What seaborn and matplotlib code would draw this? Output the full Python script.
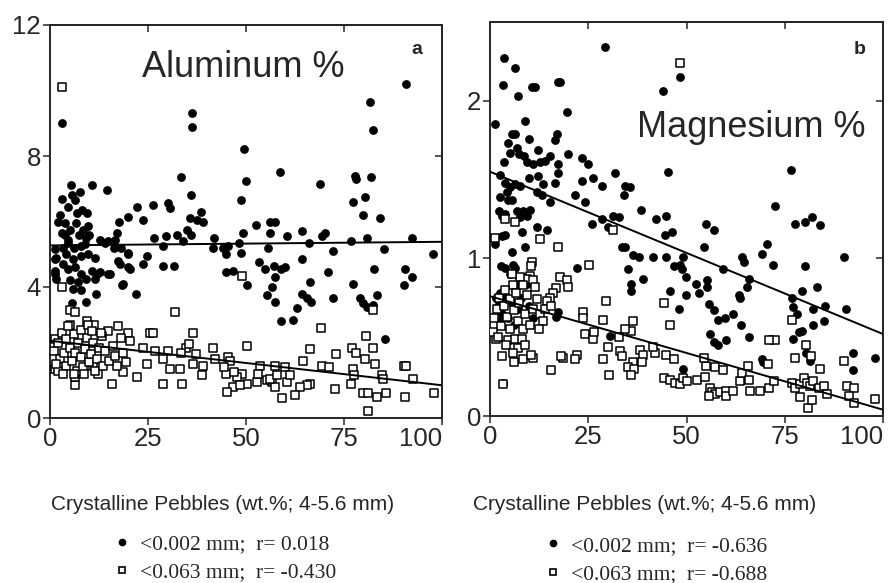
import numpy as np
import pandas as pd
import matplotlib
matplotlib.use('Agg')
import matplotlib.pyplot as plt
import seaborn as sns
from matplotlib.lines import Line2D

# ---- data ----
# panel a, aluminum, <0.002 mm (filled dots)
al_clay = [
    (3.0, 9.0), (36.2, 9.3), (36.2, 8.9), (49.6, 8.2), (50.0, 7.25), (48.8, 6.65), (33.4, 7.35), (36.0, 6.8),
    (58.7, 7.5), (68.8, 7.15), (77.7, 7.4), (78.1, 7.3), (82.0, 7.35), (81.7, 9.65), (82.4, 8.8), (90.8, 10.2),
    (77.3, 6.6), (80.3, 6.75), (79.8, 6.2), (84.1, 6.1), (80.9, 5.5), (76.9, 5.4), (92.3, 5.5), (85.1, 5.15),
    (97.7, 5.0), (82.6, 4.55), (90.6, 4.55), (92.3, 4.3), (90.2, 4.05), (77.4, 4.1), (72.3, 5.1), (71.0, 4.45),
    (70.2, 5.65), (69.4, 5.55), (66.0, 5.35), (64.3, 5.7), (64.3, 4.85), (66.2, 4.15), (60.4, 5.55), (60.0, 4.6),
    (59.0, 4.55), (57.4, 6.0), (56.0, 6.0), (56.2, 5.65), (55.6, 5.2), (53.4, 4.75), (54.9, 4.55), (57.2, 4.65),
    (57.4, 4.3), (56.6, 4.0), (52.6, 5.9), (49.2, 5.65), (48.3, 5.35), (48.8, 5.05), (50.2, 4.05), (46.8, 4.5),
    (45.0, 4.45), (45.5, 5.25), (44.9, 5.0), (44.1, 5.2), (41.9, 5.5), (41.5, 5.2), (38.6, 6.3), (39.0, 6.0),
    (37.4, 6.05), (35.7, 6.1), (34.9, 5.75), (36.0, 5.6), (33.9, 5.4), (32.3, 5.6), (30.5, 6.4), (30.0, 6.55),
    (29.5, 5.55), (28.8, 5.25), (26.6, 5.5), (26.2, 6.5), (23.7, 6.05), (22.3, 6.45), (19.8, 6.15), (17.6, 6.0),
    (17.2, 5.65), (16.6, 5.45), (14.5, 6.95), (10.7, 7.1), (7.7, 6.9), (5.4, 7.1), (5.6, 6.8), (6.5, 6.65),
    (3.0, 6.7), (4.7, 6.45), (2.5, 6.2), (3.8, 5.95), (6.8, 6.25), (9.4, 6.25), (6.6, 5.95), (9.8, 5.85),
    (3.0, 5.65), (4.7, 5.45), (7.5, 5.6), (9.2, 5.5), (12.8, 5.45), (14.0, 5.35), (24.7, 4.95), (23.8, 4.7),
    (20.3, 4.55), (20.0, 5.0), (17.9, 4.7), (18.3, 4.05), (18.6, 4.1), (28.9, 4.65), (31.7, 4.65), (15.3, 4.4),
    (11.9, 4.4), (11.7, 3.8), (22.0, 3.8), (1.3, 4.85), (1.3, 4.4), (5.8, 3.95),
    (1.2, 5.15), (3.3, 5.2), (4.6, 5.35), (6.2, 5.2), (7.8, 5.25), (9.0, 5.3), (14.8, 5.4), (16.3, 5.2),
    (18.0, 5.2), (19.9, 5.05), (1.6, 4.9), (4.0, 5.0), (5.9, 4.85), (7.8, 4.95), (9.6, 5.0), (11.4, 4.9),
    (17.4, 4.8), (19.9, 4.6), (1.2, 4.5), (3.3, 4.7), (4.6, 4.55), (6.5, 4.6), (8.0, 4.4), (10.6, 4.5),
    (12.7, 4.45), (14.8, 4.4), (1.6, 4.25), (5.0, 4.2), (7.2, 4.15), (9.3, 4.25), (11.4, 4.25), (8.0, 3.9),
    (3.7, 5.6), (5.0, 5.75), (8.5, 5.75), (10.0, 5.6), (2.0, 6.0), (8.2, 6.35),
    (5.5, 3.5), (9.2, 3.55), (55.3, 3.75), (57.4, 3.55), (58.9, 2.95), (62.1, 3.0), (63.0, 3.35), (64.3, 3.8),
    (65.5, 3.65), (66.6, 3.55), (72.3, 3.65), (79.0, 3.65), (79.8, 3.5), (80.9, 3.4), (82.4, 3.45), (83.4, 3.75),
    (85.5, 2.4),
]
# panel a, aluminum, <0.063 mm (open squares)
al_silt = [
    (3.0, 10.1), (3.0, 4.0), (49.0, 4.35), (82.4, 3.3), (5.1, 3.3), (6.3, 3.25), (31.9, 3.25), (9.4, 2.95),
    (11.1, 2.85), (5.1, 2.85), (14.9, 2.65), (17.4, 2.8), (20.0, 2.6), (18.0, 2.45), (25.6, 2.6), (26.4, 2.6),
    (36.6, 2.6), (69.1, 2.75), (1.3, 2.4), (13.2, 2.5), (20.4, 2.35), (23.8, 2.15), (26.8, 2.05), (30.2, 2.05),
    (34.7, 2.15), (35.5, 2.25), (41.7, 2.15), (50.2, 2.2), (66.2, 2.1), (73.0, 1.95), (77.0, 2.15), (78.1, 2.0),
    (80.7, 2.5), (82.4, 2.15), (28.9, 1.8), (33.3, 2.0), (37.3, 1.95), (42.1, 1.8), (45.4, 1.85), (46.0, 1.75),
    (39.0, 1.6), (24.7, 1.65), (30.6, 1.5), (33.2, 1.5), (38.7, 1.3), (36.6, 1.65), (64.5, 1.75), (53.6, 1.6),
    (57.4, 1.6), (60.0, 1.55), (69.4, 1.6), (71.3, 1.55), (77.3, 1.5), (80.3, 1.8), (82.8, 1.65), (90.2, 1.6),
    (90.8, 1.6), (92.6, 1.2), (84.7, 1.3), (85.0, 1.2), (76.9, 1.05), (77.6, 1.3), (79.8, 0.75), (81.1, 0.75),
    (83.4, 0.65), (85.8, 0.75), (81.0, 0.2), (90.6, 0.65), (97.9, 0.75), (72.6, 0.9), (66.4, 1.05), (65.6, 1.0),
    (63.8, 0.95), (62.6, 0.7), (59.1, 0.6), (56.6, 1.1), (55.3, 1.15), (57.4, 0.95), (60.4, 1.1), (61.3, 1.3),
    (48.9, 1.35), (50.2, 1.05), (47.7, 1.25), (46.8, 0.95), (48.5, 1.0), (52.8, 1.1), (45.1, 0.8), (44.9, 1.35),
    (33.6, 1.05), (28.9, 1.05), (22.1, 1.25), (15.7, 1.05), (18.7, 1.4), (17.0, 1.6), (6.4, 1.0), (6.4, 1.25),
    (1.3, 1.5), (12.3, 1.35), (11.0, 1.6), (44.5, 1.55), (47.0, 1.4), (56.0, 1.2), (58.0, 1.3), (53.0, 1.35),
    (1.0, 2.05), (2.0, 2.3), (2.5, 1.8), (3.0, 2.6), (3.5, 2.0), (4.0, 1.6), (4.2, 2.4), (5.0, 2.15),
    (5.5, 1.75), (6.0, 2.55), (6.5, 2.0), (7.0, 1.45), (7.2, 2.3), (7.8, 1.85), (8.0, 2.7), (8.5, 1.55),
    (9.0, 2.1), (9.5, 2.45), (10.0, 1.7), (10.5, 1.95), (11.0, 2.3), (11.5, 1.45), (12.0, 1.8), (12.5, 2.15),
    (13.5, 1.6), (14.0, 2.05), (15.0, 1.75), (16.0, 2.2), (2.0, 1.45), (3.2, 1.35), (4.5, 2.8), (8.8, 1.35),
    (6.0, 1.35), (13.0, 2.6), (16.5, 1.9), (18.5, 2.0), (19.5, 1.7), (1.5, 1.65), (9.7, 2.85), (10.8, 2.65),
]
# panel b, magnesium, <0.002 mm
mg_clay = [
    (29.3, 2.34), (3.65, 2.27), (6.4, 2.21), (3.4, 2.1), (7.2, 2.03), (10.6, 2.09), (11.5, 2.09), (17.4, 2.12),
    (17.8, 2.12), (19.5, 1.93), (8.9, 1.87), (1.3, 1.85), (44.1, 2.06), (48.4, 2.15), (5.5, 1.79), (6.3, 1.79),
    (17.0, 1.79), (16.6, 1.75), (9.8, 1.76), (4.7, 1.73), (6.8, 1.7), (12.3, 1.69), (5.2, 1.67), (7.3, 1.66),
    (8.6, 1.65), (9.5, 1.61), (19.8, 1.66), (15.3, 1.65), (14.0, 1.62), (12.8, 1.61), (10.9, 1.6), (17.4, 1.6),
    (23.3, 1.64), (25.0, 1.6), (3.65, 1.61), (17.4, 1.54), (16.5, 1.48), (23.3, 1.49), (26.3, 1.51), (31.8, 1.54),
    (28.4, 1.46), (34.4, 1.46), (35.7, 1.45), (34.0, 1.4), (45.4, 1.55), (76.7, 1.56), (2.5, 1.53), (3.8, 1.48),
    (5.1, 1.45), (6.4, 1.47), (7.7, 1.46), (9.8, 1.51), (12.3, 1.52), (13.6, 1.47), (11.9, 1.42), (13.2, 1.4),
    (2.5, 1.39), (4.2, 1.42), (5.5, 1.37), (4.7, 1.37), (15.3, 1.36), (21.6, 1.4), (24.2, 1.36), (25.9, 1.22),
    (28.6, 1.25), (30.0, 1.2), (31.4, 1.27), (32.7, 1.26), (38.5, 1.31), (42.2, 1.25), (44.8, 1.27), (44.6, 1.15),
    (46.3, 1.17), (54.9, 1.22), (57.1, 1.18), (72.4, 1.33), (77.5, 1.22), (80.1, 1.23), (81.9, 1.26), (84.0, 1.21),
    (2.4, 1.3), (3.0, 1.27), (3.8, 1.28), (6.8, 1.3), (8.5, 1.3), (10.2, 1.31), (9.4, 1.27), (7.7, 1.26),
    (11.9, 1.2), (14.4, 1.18), (8.1, 1.17), (3.8, 1.15), (3.0, 1.14), (1.3, 1.09), (8.9, 1.07), (5.5, 1.04),
    (33.5, 1.07), (34.4, 1.07), (36.3, 1.02), (38.0, 1.01), (41.4, 1.01), (44.8, 1.01), (46.7, 0.95), (48.4, 0.96),
    (49.0, 1.01), (48.8, 0.93), (49.9, 0.88), (54.5, 1.07), (59.3, 0.93), (64.1, 1.01), (64.7, 0.98), (69.2, 1.03),
    (70.5, 1.09), (72.0, 0.96), (80.2, 0.95), (90.2, 1.01), (22.1, 0.94), (35.1, 0.93), (38.9, 0.87), (36.0, 0.84),
    (36.0, 0.79), (45.8, 0.79), (49.9, 0.77), (52.5, 0.84), (53.3, 0.78), (55.2, 0.86), (55.2, 0.82), (63.4, 0.77),
    (63.7, 0.75), (65.8, 0.87), (65.4, 0.82), (79.4, 0.79), (83.2, 0.82), (76.8, 0.75), (2.9, 0.95), (3.8, 0.94),
    (5.9, 0.96), (6.4, 0.94), (5.1, 0.9), (9.0, 0.88), (9.3, 0.84), (7.2, 0.83), (6.4, 0.8), (2.5, 0.78),
    (55.6, 0.71), (56.9, 0.67), (48.2, 0.68), (58.1, 0.61), (59.8, 0.62), (61.8, 0.65), (63.9, 0.58), (66.0, 0.5),
    (55.9, 0.52), (56.9, 0.47), (58.1, 0.45), (60.1, 0.48), (77.2, 0.69), (78.1, 0.65), (82.3, 0.68), (85.3, 0.7),
    (84.9, 0.6), (82.3, 0.58), (79.4, 0.54), (78.6, 0.53), (77.2, 0.49), (71.3, 0.49), (90.7, 0.68), (92.4, 0.4),
    (92.4, 0.29), (97.9, 0.37), (80.5, 0.4), (81.5, 0.35), (69.2, 0.36), (69.5, 0.34), (49.2, 0.3), (16.8, 0.63),
    (17.2, 0.66), (36.3, 0.32), (35.5, 0.31), (30.6, 0.51), (3.4, 0.21),
    (2.0, 0.7), (3.0, 0.65), (4.0, 0.75), (5.5, 0.72), (7.0, 0.68), (8.0, 0.75), (2.5, 0.6), (4.5, 0.62),
    (6.0, 0.58), (10.0, 0.7), (11.0, 0.62), (1.5, 0.75),
]
# panel b, magnesium, <0.063 mm
mg_silt = [
    (48.4, 2.24), (31.4, 1.18), (1.3, 1.13), (3.8, 1.25), (6.4, 1.23), (12.7, 1.12), (17.4, 1.07), (25.3, 0.96),
    (10.6, 0.98), (10.5, 0.95), (10.2, 0.89), (9.4, 0.87), (7.7, 0.88), (5.5, 0.9), (5.9, 0.83), (8.5, 0.83),
    (11.0, 0.86), (11.5, 0.82), (17.8, 0.88), (19.5, 0.86), (19.9, 0.82), (16.9, 0.81), (16.0, 0.78), (15.3, 0.75),
    (14.4, 0.73), (29.5, 0.73), (44.3, 0.72), (45.7, 0.58), (23.6, 0.66), (23.6, 0.62), (28.7, 0.61), (36.3, 0.6),
    (35.9, 0.54), (34.4, 0.55), (32.7, 0.5), (24.2, 0.52), (26.2, 0.49), (26.5, 0.53), (30.1, 0.44), (38.2, 0.42),
    (39.0, 0.39), (33.1, 0.41), (33.5, 0.38), (36.3, 0.34), (35.0, 0.31), (36.7, 0.3), (35.9, 0.26), (38.6, 0.34),
    (42.0, 0.4), (41.6, 0.44), (44.8, 0.39), (46.7, 0.36), (28.7, 0.36), (30.4, 0.26), (22.1, 0.39), (21.7, 0.36),
    (18.5, 0.37), (15.5, 0.29), (10.9, 0.37), (8.5, 0.36), (7.2, 0.43), (6.0, 0.34), (1.5, 0.49), (4.7, 0.48),
    (6.4, 0.49), (8.1, 0.49), (3.4, 0.2), (44.3, 0.24), (45.8, 0.23), (47.1, 0.21), (48.4, 0.2), (49.0, 0.24),
    (50.1, 0.22), (52.6, 0.23), (54.7, 0.25), (54.9, 0.32), (54.5, 0.37), (57.3, 0.31), (59.4, 0.29), (56.0, 0.18),
    (56.4, 0.15), (57.3, 0.14), (58.5, 0.15), (55.6, 0.13), (60.1, 0.16), (60.1, 0.13), (61.8, 0.16), (63.5, 0.22),
    (64.1, 0.27), (65.6, 0.32), (65.8, 0.23), (66.2, 0.16), (68.7, 0.16), (70.9, 0.18), (72.2, 0.22), (72.6, 0.48),
    (70.9, 0.48), (70.7, 0.33), (76.8, 0.61), (77.7, 0.37), (80.5, 0.45), (81.7, 0.38), (84.0, 0.3), (76.8, 0.21),
    (77.6, 0.18), (78.8, 0.2), (80.0, 0.24), (80.7, 0.21), (81.5, 0.19), (79.0, 0.12), (80.8, 0.05), (81.9, 0.1),
    (82.3, 0.22), (83.6, 0.18), (84.9, 0.19), (85.7, 0.14), (90.1, 0.35), (90.8, 0.19), (92.5, 0.18), (91.3, 0.13),
    (92.5, 0.08), (97.9, 0.11),
    (1.0, 0.62), (1.8, 0.68), (2.3, 0.75), (2.8, 0.57), (3.5, 0.7), (3.9, 0.8), (4.3, 0.63), (5.0, 0.55),
    (5.2, 0.74), (6.0, 0.67), (6.6, 0.78), (7.0, 0.6), (7.5, 0.72), (8.3, 0.55), (8.8, 0.65), (9.5, 0.77),
    (10.3, 0.58), (11.0, 0.68), (12.0, 0.74), (12.8, 0.65), (13.5, 0.6), (0.7, 0.53), (2.0, 0.5), (4.0, 0.45),
    (5.8, 0.4), (3.0, 0.38), (12.5, 0.55), (14.0, 0.68), (15.5, 0.7), (9.0, 0.45), (10.5, 0.39), (18.1, 0.38),
]

# regression lines (values at x = 0 and x = 100)
fit_x = [0, 100]
al_clay_fit = [5.27, 5.38]
al_silt_fit = [2.36, 1.00]
mg_clay_fit = [1.55, 0.52]
mg_silt_fit = [0.76, 0.04]

labels_a = ['<0.002 mm;  r= 0.018', '<0.063 mm;  r= -0.430']
labels_b = ['<0.002 mm;  r= -0.636', '<0.063 mm;  r= -0.688']
xlab = 'Crystalline Pebbles (wt.%; 4-5.6 mm)'

sns.set_style('ticks')
plt.rcParams['font.family'] = ['Liberation Sans', 'DejaVu Sans']
plt.rcParams['axes.linewidth'] = 1.4

fig = plt.figure(figsize=(8.94, 5.83), dpi=100)
ax_a = fig.add_axes([50 / 894, 165 / 583, 392 / 894, 393 / 583])
ax_b = fig.add_axes([490 / 894, 167 / 583, 393 / 894, 394 / 583])


def panel(ax, clay, silt, clay_fit, silt_fit, ylim, yticks):
    dc = pd.DataFrame(clay, columns=['x', 'y'])
    ds = pd.DataFrame(silt, columns=['x', 'y'])
    sns.scatterplot(data=dc, x='x', y='y', ax=ax, marker='o', s=40, color='black',
                    edgecolor='black', linewidth=0, zorder=2)
    sns.scatterplot(data=ds, x='x', y='y', ax=ax, marker='s', s=36, facecolor='white',
                    edgecolor='black', linewidth=1.1, zorder=3)
    sns.lineplot(x=fit_x, y=clay_fit, ax=ax, color='black', lw=1.4, zorder=4)
    sns.lineplot(x=fit_x, y=silt_fit, ax=ax, color='black', lw=1.4, zorder=4)
    ax.set_xlim(0, 100)
    ax.set_ylim(*ylim)
    ax.set_xticks([0, 25, 50, 75, 100])
    ax.set_yticks(yticks)
    ax.set_ylabel('')
    ax.tick_params(direction='out', length=5, width=1.1, pad=1.5, labelsize=18.5)
    ax.get_xticklabels()[-1].set_horizontalalignment('right')
    for s in ax.spines.values():
        s.set_visible(True)
    # inward ticks on the top and right sides
    top = ax.secondary_xaxis('top')
    top.set_xticks([25, 50, 75])
    top.tick_params(direction='in', length=5, width=1.1, labeltop=False)
    right = ax.secondary_yaxis('right')
    right.set_yticks(yticks)
    right.tick_params(direction='in', length=5, width=1.1, labelright=False)


panel(ax_a, al_clay, al_silt, al_clay_fit, al_silt_fit, (0, 12), [0, 4, 8, 12])
panel(ax_b, mg_clay, mg_silt, mg_clay_fit, mg_silt_fit, (0, 2.5), [0, 1, 2])

ax_a.set_xlabel(xlab, fontsize=15)
ax_a.xaxis.set_label_coords(0.439, -0.195)
ax_b.set_xlabel(xlab, fontsize=15)
ax_b.xaxis.set_label_coords(0.394, -0.20)

ax_a.text(0.235, 0.868, 'Aluminum %', transform=ax_a.transAxes, fontsize=26, ha='left', va='baseline')
ax_b.text(0.374, 0.708, 'Magnesium %', transform=ax_b.transAxes, fontsize=26, ha='left', va='baseline')
ax_a.text(0.923, 0.926, 'a', transform=ax_a.transAxes, fontsize=14, fontweight='bold', ha='left', va='baseline')
ax_b.text(0.926, 0.919, 'b', transform=ax_b.transAxes, fontsize=14, fontweight='bold', ha='left', va='baseline')


def handles():
    return [Line2D([], [], marker='o', ls='', color='black', markersize=4.5),
            Line2D([], [], marker='s', ls='', mfc='white', mec='black', mew=1.2, markersize=5)]


leg_font = {'family': 'Liberation Serif', 'size': 15.5}
for lbls, anchor in [(labels_a, (113 / 894, 0.084)), (labels_b, (544 / 894, 0.081))]:
    fig.legend(handles(), lbls, loc='upper left', bbox_to_anchor=anchor, frameon=False, prop=leg_font,
               handlelength=0.8, handletextpad=0.45, labelspacing=0.38, borderpad=0, borderaxespad=0)

plt.savefig('out.png', dpi=100)
